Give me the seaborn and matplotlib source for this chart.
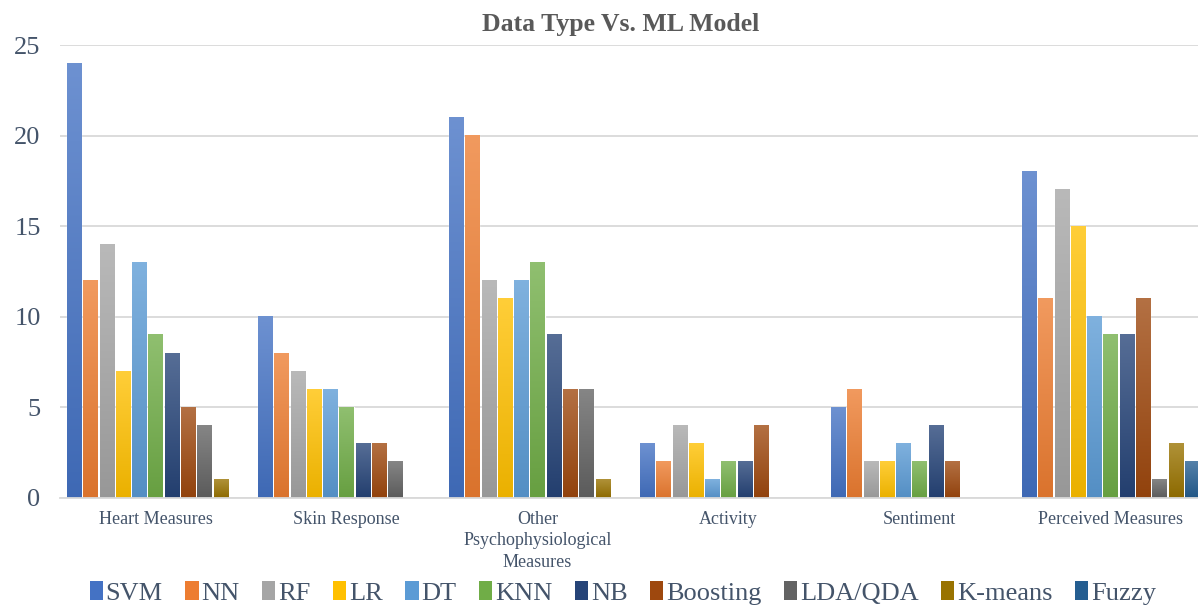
import numpy as np
import pandas as pd
import matplotlib
matplotlib.use("Agg")
import matplotlib.pyplot as plt
import matplotlib.colors as mcolors
import matplotlib.patches as mpatches
import seaborn as sns

# data
data_types = ["Heart Measures", "Skin Response", "Other\nPsychophysiological\nMeasures",
              "Activity", "Sentiment", "Perceived Measures"]
models = ["SVM", "NN", "RF", "LR", "DT", "KNN", "NB", "Boosting", "LDA/QDA", "K-means", "Fuzzy"]
heart = [24, 12, 14, 7, 13, 9, 8, 5, 4, 1, 0]
skin = [10, 8, 7, 6, 6, 5, 3, 3, 2, 0, 0]
other = [21, 20, 12, 11, 12, 13, 9, 6, 6, 1, 0]
activity = [3, 2, 4, 3, 1, 2, 2, 4, 0, 0, 0]
sentiment = [5, 6, 2, 2, 3, 2, 4, 2, 0, 0, 0]
perceived = [18, 11, 17, 15, 10, 9, 9, 11, 1, 3, 2]
colors = ["#4472C4", "#ED7D31", "#A5A5A5", "#FFC000", "#5B9BD5", "#70AD47",
          "#264478", "#9E480E", "#636363", "#997300", "#255E91"]

rows = []
for dt, vals in zip(data_types, [heart, skin, other, activity, sentiment, perceived]):
    for m, v in zip(models, vals):
        rows.append({"type": dt, "model": m, "count": v})
df = pd.DataFrame(rows)

sns.set_theme(style="white")
plt.rcParams['font.family'] = ['Liberation Serif', 'DejaVu Serif']

text_col = "#44546A"
fig = plt.figure(figsize=(11.98, 6.05), dpi=100)
ax = fig.add_axes([60 / 1198, 107 / 605, 1146 / 1198, 453 / 605])

sns.barplot(data=df, x="type", y="count", hue="model", palette=colors,
            width=0.94, gap=0.14, legend=False, ax=ax, saturation=1)

# excel-like vertical gradient on each bar
def mix(c, other, t):
    c = np.array(mcolors.to_rgb(c))
    return tuple(c * (1 - t) + np.array(other) * t)

for p in list(ax.patches):
    h = p.get_height()
    if h <= 0:
        continue
    base = p.get_facecolor()[:3]
    top = mix(base, (1, 1, 1), 0.22)
    bot = mix(base, (0, 0, 0), 0.08)
    n = 64
    t = np.linspace(0, 1, n)[:, None]
    grad = np.array(top)[None, :] * (1 - t) + np.array(bot)[None, :] * t
    img = grad[:, None, :]
    x0 = p.get_x()
    ax.imshow(img, extent=(x0, x0 + p.get_width(), p.get_y(), p.get_y() + h),
              origin="upper", aspect="auto", interpolation="bilinear", zorder=p.get_zorder() + 0.1)

ax.set_xlim(-0.5, 5.5)
ax.set_ylim(0, 25)
ax.set_aspect("auto")
ax.set_yticks([0, 5, 10, 15, 20, 25])
ax.yaxis.grid(True, color="#D9D9D9", lw=1.3)
ax.set_axisbelow(True)
for s in ["top", "right", "left"]:
    ax.spines[s].set_visible(False)
ax.spines["bottom"].set_color("#D9D9D9")
ax.spines["bottom"].set_linewidth(1.3)
ax.tick_params(axis="y", length=0, labelsize=19, labelcolor=text_col, pad=14)
ax.tick_params(axis="x", length=0, labelsize=13, labelcolor=text_col, pad=9)
for lab in ax.get_xticklabels():
    lab.set_linespacing(1.35)
ax.set_xlabel("")
ax.set_ylabel("")

fig.text(0.518, 0.96, "Data Type Vs. ML Model", ha="center", va="center",
         fontsize=18.5, fontweight="bold", color="#595959")

handles = [mpatches.Patch(facecolor=c, edgecolor="none") for c in colors]
fig.legend(handles, models, loc="center", bbox_to_anchor=(0.52, 0.02), ncol=11,
           frameon=False, fontsize=19, handlelength=0.5, handleheight=0.75,
           handletextpad=0.1, columnspacing=0.86, labelcolor=text_col, borderpad=0)

fig.savefig("out.png", dpi=100)
